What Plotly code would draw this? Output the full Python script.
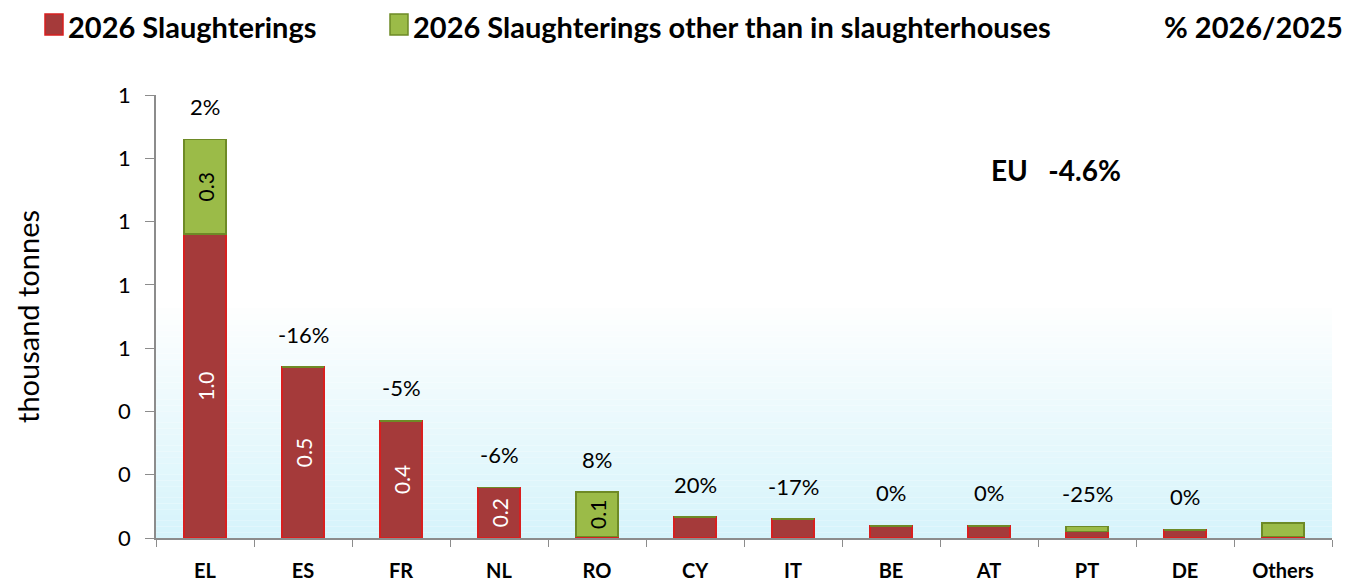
import plotly.graph_objects as go

countries = ["EL", "ES", "FR", "NL", "RO", "CY", "IT", "BE", "AT", "PT", "DE", "Others"]
slaughterings = [0.96, 0.54, 0.37, 0.16, 0.005, 0.066, 0.06, 0.038, 0.038, 0.02, 0.026, 0.005]
other_than_slaughterhouses = [0.30, 0.0, 0.0, 0.0, 0.14, 0.0, 0.0, 0.0, 0.0, 0.016, 0.0, 0.043]
pct_change = ["2%", "-16%", "-5%", "-6%", "8%", "20%", "-17%", "0%", "0%", "-25%", "0%", ""]
eu_change = "-4.6%"
y_ticks = [0, 0.2, 0.4, 0.6, 0.8, 1.0, 1.2, 1.4]

FONT = "Lato"
RED_FILL = "#a53a3a"
RED_LINE = "#d81f1f"
GREEN_FILL = "#9bbb48"
GREEN_LINE = "#6e8a26"

# page has an 8px body margin; figure coords = screen coords - 8
OFF = 8
FIG_W, FIG_H = 1344, 577
L, T, W, H = 156 - OFF, 95 - OFF, 1176, 443


def lbl(v):
    return f"{v:.1f}" if v >= 0.1 else ""


fig = go.Figure()
fig.add_trace(go.Bar(
    x=countries, y=slaughterings, name="2026 Slaughterings",
    marker=dict(color=RED_FILL, line=dict(color=RED_LINE, width=1.5)),
    text=[lbl(v) for v in slaughterings], textposition="inside",
    insidetextanchor="middle", textangle=-90, constraintext="none",
    textfont=dict(family=FONT, size=21, color="white"),
    hoverinfo="skip",
))
fig.add_trace(go.Bar(
    x=countries, y=other_than_slaughterhouses,
    name="2026 Slaughterings other than in slaughterhouses",
    marker=dict(color=GREEN_FILL, line=dict(color=GREEN_LINE, width=1.5)),
    text=[lbl(v) for v in other_than_slaughterhouses], textposition="inside",
    insidetextanchor="middle", textangle=-90, constraintext="none",
    textfont=dict(family=FONT, size=21, color="black"),
    hoverinfo="skip",
))

# percentage labels above stacks
for c, a, b, p in zip(countries, slaughterings, other_than_slaughterhouses, pct_change):
    if p:
        fig.add_annotation(x=c, y=a + b, text=p, showarrow=False, yshift=33,
                           font=dict(family=FONT, size=22, color="black"))

# gradient background in plot area
n = 40
g0, g1 = 0.0, 0.52
c_bot = (214, 244, 251)
for i in range(n):
    t = i / n
    r = int(c_bot[0] + (255 - c_bot[0]) * t)
    g = int(c_bot[1] + (255 - c_bot[1]) * t)
    bl = int(c_bot[2] + (255 - c_bot[2]) * t)
    fig.add_shape(type="rect", xref="x domain", yref="y domain",
                  x0=0, x1=1, y0=g0 + (g1 - g0) * i / n, y1=g0 + (g1 - g0) * (i + 1) / n,
                  fillcolor=f"rgb({r},{g},{bl})", line=dict(width=0), layer="below")


def px(x):
    return (x - OFF - L) / W


def py(y):
    return (T + H - (y - OFF)) / H


LEG_Y = 26
# legend (drawn as paper-positioned items, screen coordinates)
for x0, col, lc in [(45, RED_FILL, RED_LINE), (390, GREEN_FILL, GREEN_LINE)]:
    fig.add_shape(type="rect", xref="paper", yref="paper",
                  x0=px(x0), x1=px(x0 + 18), y0=py(35), y1=py(14),
                  fillcolor=col, line=dict(color=lc, width=1.5))
fig.add_annotation(xref="paper", yref="paper", x=px(66), y=py(LEG_Y), xanchor="left",
                   yanchor="middle", showarrow=False, text="<b>2026 Slaughterings</b>",
                   font=dict(family=FONT, size=29, color="black"))
fig.add_annotation(xref="paper", yref="paper", x=px(411), y=py(LEG_Y), xanchor="left",
                   yanchor="middle", showarrow=False,
                   text="<b>2026 Slaughterings other than in slaughterhouses</b>",
                   font=dict(family=FONT, size=29, color="black"))
fig.add_annotation(xref="paper", yref="paper", x=px(1345), y=py(LEG_Y), xanchor="right",
                   yanchor="middle", showarrow=False, text="<b>% 2026/2025</b>",
                   font=dict(family=FONT, size=29, color="black"))

fig.add_annotation(xref="paper", yref="paper", x=px(1056), y=py(170), xanchor="center",
                   yanchor="middle", showarrow=False, text=f"<b>EU   {eu_change}</b>",
                   font=dict(family=FONT, size=28, color="black"))

fig.update_layout(
    width=FIG_W, height=FIG_H, barmode="stack", bargap=0.57,
    margin=dict(l=L, r=FIG_W - L - W, t=T, b=FIG_H - T - H, autoexpand=False),
    plot_bgcolor="white", paper_bgcolor="white", showlegend=False,
    font=dict(family=FONT, color="black"),
)
fig.update_xaxes(
    showline=True, linecolor="#8c8c8c", linewidth=1.5, ticks="outside",
    tickson="boundaries", ticklen=7, tickcolor="#8c8c8c",
    tickfont=dict(family=FONT, size=20, color="black"), ticklabelstandoff=14,
    tickprefix="<b>", ticksuffix="</b>", showgrid=False,
)
fig.update_yaxes(
    range=[0, 1.4], tickvals=y_ticks, tickformat=".0f", showline=True,
    linecolor="#8c8c8c", linewidth=1.5, ticks="outside", ticklen=9,
    tickcolor="#8c8c8c", tickfont=dict(family=FONT, size=22, color="black"),
    ticklabelstandoff=10, showgrid=False, zeroline=False,
    title=dict(text="thousand tonnes", font=dict(family=FONT, size=29, color="black"),
               standoff=70),
)

fig.write_html("out.html")
